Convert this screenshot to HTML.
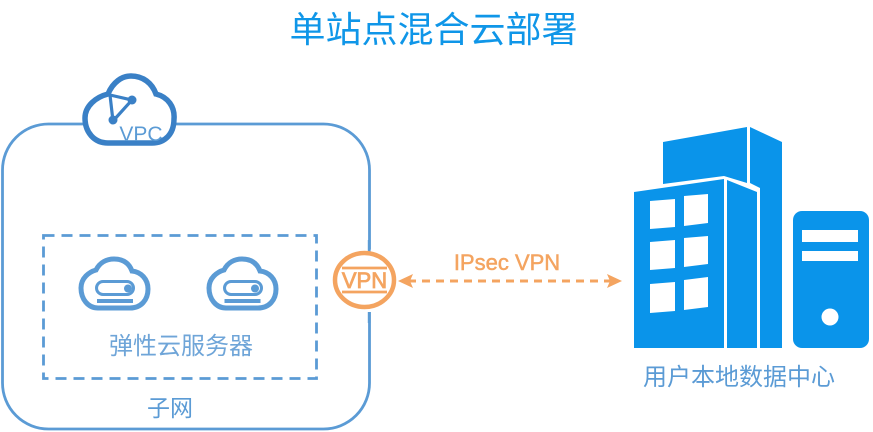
<!DOCTYPE html>
<html lang="zh">
<head>
<meta charset="utf-8">
<title>单站点混合云部署</title>
<style>
html,body{margin:0;padding:0;background:#fff;width:873px;height:432px;overflow:hidden}
svg{display:block}
text{font-family:"Liberation Sans","Noto Sans CJK SC",sans-serif}
</style>
</head>
<body>
<svg width="873" height="432" viewBox="0 0 873 432" xmlns="http://www.w3.org/2000/svg">
<rect width="873" height="432" fill="#fff"/>

<text x="433.500" y="42" text-anchor="middle" font-size="36" fill="#0f96e8">单站点混合云部署</text>

<!-- VPC box -->
<rect x="2.500" y="124" width="367" height="305" rx="46" ry="46" fill="#fff" stroke="#5b9bd5" stroke-width="2.800"/>
<rect x="43.500" y="235.500" width="273" height="143" fill="none" stroke="#5b9bd5" stroke-width="2.800" stroke-dasharray="11 7"/>

<!-- VPC cloud -->
<path d="M85,118 C85,106 96,97 108,94 C113,82 122,76 131,76 C143,76 152,83 156,94 C168,97 175,107 174,119 C174,134 165,143 152,143 L108,143 C94,143 85,132 85,118 Z" fill="#fff" stroke="#3a80c6" stroke-width="5.500"/>
<path d="M110,95 L132,100 L113,121 Z" fill="none" stroke="#3a80c6" stroke-width="3.200"/>
<circle cx="132" cy="100" r="4.500" fill="#3a80c6"/>
<circle cx="113" cy="120" r="4.500" fill="#3a80c6"/>
<text x="141" y="141" text-anchor="middle" font-size="21" fill="#5b9bd5">VPC</text>

<!-- Server cloud 1 -->
<g fill="none" stroke="#5b9bd5">
<path d="M81,288 C81,278 89,272 96,270 C100,262 107,259 114,259 C123,259 129,263 132,271 C141,272 148,279 148,289 C148,300 141,308 130,308 L98,308 C88,308 81,299 81,288 Z" stroke-width="5"/>
<rect x="96.500" y="281.500" width="37" height="13" rx="6.500" stroke-width="3"/>
<circle cx="128" cy="288.500" r="4" fill="#5b9bd5" stroke="none"/>
<rect x="97" y="299" width="36" height="4" fill="#5b9bd5" stroke="none"/>
</g>
<!-- Server cloud 2 -->
<g fill="none" stroke="#5b9bd5">
<path d="M209,288 C209,278 217,272 224,270 C228,262 235,259 242,259 C251,259 257,263 260,271 C269,272 276,279 276,289 C276,300 269,308 258,308 L226,308 C216,308 209,299 209,288 Z" stroke-width="5"/>
<rect x="224.500" y="281.500" width="37" height="13" rx="6.500" stroke-width="3"/>
<circle cx="255" cy="288.500" r="4" fill="#5b9bd5" stroke="none"/>
<rect x="224.500" y="299" width="36" height="4" fill="#5b9bd5" stroke="none"/>
</g>

<text x="181" y="354" text-anchor="middle" font-size="24" fill="#6fa5d8">弹性云服务器</text>
<text x="170" y="416" text-anchor="middle" font-size="23" fill="#5b9bd5">子网</text>

<!-- VPN badge -->
<rect x="360" y="252" width="14" height="60" fill="#fff"/>
<ellipse cx="364.500" cy="280" rx="34" ry="31" fill="#fff"/>
<rect x="367.800" y="240" width="2.800" height="13" fill="#5b9bd5"/>
<rect x="367.800" y="312" width="2.800" height="11" fill="#5b9bd5"/>
<ellipse cx="364.500" cy="280" rx="29.500" ry="27" fill="#fff" stroke="#f4a460" stroke-width="4.500"/>
<line x1="342" y1="268" x2="387" y2="268" stroke="#f4a460" stroke-width="2.800"/>
<line x1="342" y1="292" x2="387" y2="292" stroke="#f4a460" stroke-width="2.800"/>
<text x="364.500" y="288" text-anchor="middle" font-size="22" fill="#f4a460" stroke="#f4a460" stroke-width=".8">VPN</text>

<!-- Arrow -->
<line x1="408" y1="281" x2="612" y2="281" stroke="#f4a460" stroke-width="3" stroke-dasharray="8 6"/>
<path d="M398,281 L413,274 L410,281 L413,288 Z" fill="#f4a460"/>
<path d="M622,281 L607,274 L610,281 L607,288 Z" fill="#f4a460"/>
<text x="507" y="270" text-anchor="middle" font-size="22" fill="#f4a460" stroke="#f4a460" stroke-width=".5">IPsec VPN</text>

<!-- Building -->
<g fill="#0a94ea">
<polygon points="663,142 747,127 747,183 724,176 663,184"/>
<polygon points="750,127 782,142 782,348 760,348 760,188 750,183"/>
<polygon points="634,192 724,179 724,348 634,348"/>
<polygon points="727,180 757,192 757,348 727,348"/>
</g>
<g fill="#fff">
<polygon points="650,201 675,199 675,227 650,229"/>
<polygon points="684,196 708,194 708,223 684,226"/>
<polygon points="650,242 675,240 675,268 650,270"/>
<polygon points="684,238 708,236 708,264 684,267"/>
<polygon points="650,284 675,282 675,311 650,313"/>
<polygon points="684,280 708,277 708,307 684,310"/>
</g>

<!-- Server tower -->
<rect x="793" y="211" width="76" height="137" rx="9" fill="#0a94ea"/>
<rect x="802" y="230" width="56" height="12" fill="#fff"/>
<rect x="802" y="251" width="56" height="10" fill="#fff"/>
<circle cx="830" cy="317" r="8.500" fill="#fff"/>

<text x="739" y="385" text-anchor="middle" font-size="24" fill="#5b9bd5">用户本地数据中心</text>
</svg>
</body>
</html>
